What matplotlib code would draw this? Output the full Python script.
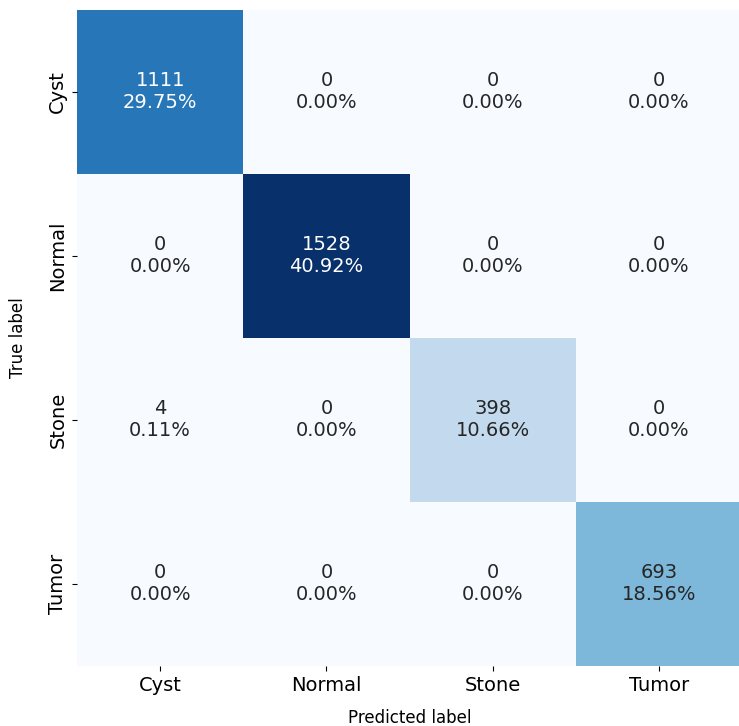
import numpy as np
import matplotlib
matplotlib.use("Agg")
import matplotlib.pyplot as plt
import seaborn as sns

classes = ["Cyst", "Normal", "Stone", "Tumor"]
cm = np.array([
    [1111, 0, 0, 0],
    [0, 1528, 0, 0],
    [4, 0, 398, 0],
    [0, 0, 0, 693],
])

total = cm.sum()
labels = [f"{v}\n{v / total:.2%}" for v in cm.flatten()]
labels = np.asarray(labels).reshape(cm.shape)

fig = plt.figure(figsize=(7.39, 7.26), dpi=100)
ax = fig.add_axes([77 / 739, 60 / 726, 665 / 739, 656 / 726])
sns.heatmap(cm, annot=labels, fmt="", cmap="Blues", cbar=False, ax=ax,
            annot_kws={"fontsize": 14},
            xticklabels=classes, yticklabels=classes)
ax.tick_params(labelsize=14)
plt.setp(ax.get_yticklabels(), rotation=90, va="center")
ax.set_xlabel("Predicted label", fontsize=12, labelpad=10)
ax.set_ylabel("True label", fontsize=12, labelpad=15)

fig.savefig("out.png", dpi=100)
